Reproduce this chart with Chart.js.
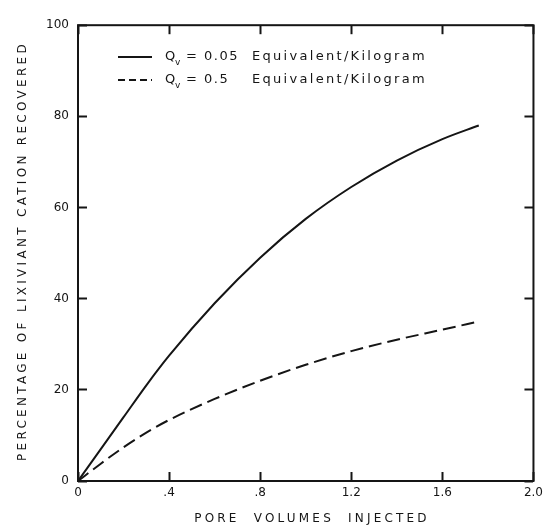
<!DOCTYPE html>
<html>
<head>
<meta charset="utf-8">
<script src="https://cdn.jsdelivr.net/npm/chart.js@4.4.0/dist/chart.umd.min.js"></script>
<style>
    html, body { margin: 0; padding: 0; background: #fff; }
    #wrap { width: 557px; height: 531px; }
</style>
</head>
<body>
<div id="wrap"><canvas id="recovery-chart"></canvas></div>
<script>
// Values
const poreVolumes = [0, 0.1, 0.2, 0.3, 0.4, 0.6, 0.8, 1.0, 1.2, 1.4, 1.6, 1.76];
const recoveredLowQ = [0, 7, 14, 21, 27.5, 39, 49, 57.5, 64.5, 70.3, 75, 78];
const recoveredHighQ = [0, 3.8, 7.4, 10.6, 13.4, 18, 22, 25.5, 28.5, 31, 33.2, 35];
const xTickValues = [0, 0.4, 0.8, 1.2, 1.6, 2.0];
const yTickValues = [0, 20, 40, 60, 80, 100];
const qvValues = ['0.05', '0.5'];
const legendUnit = 'Equivalent/Kilogram';
const xTitle = 'PORE  VOLUMES  INJECTED';
const yTitle = 'PERCENTAGE OF LIXIVIANT CATION RECOVERED';

const ink = '#151515';
const font = "'DejaVu Sans', sans-serif";

function toPoints(ys) {
    return poreVolumes.map((x, i) => ({ x: x, y: ys[i] }));
}

// inward tick marks, drawn by the scales themselves
const inwardGrid = {
    display: true,
    drawOnChartArea: false,
    drawTicks: true,
    tickLength: -9,
    tickWidth: 2,
    tickColor: ink
};

// Frame box plus axis titles
const framePlugin = {
    id: 'frameBox',
    afterDraw(chart) {
        const ctx = chart.ctx;
        const a = chart.chartArea;
        ctx.save();
        ctx.setLineDash([]);
        ctx.strokeStyle = ink;
        ctx.fillStyle = ink;
        ctx.lineWidth = 2;
        ctx.strokeRect(a.left, a.top, a.right - a.left, a.bottom - a.top);

        ctx.font = '12px ' + font;
        ctx.textAlign = 'center';
        ctx.textBaseline = 'middle';
        ctx.letterSpacing = '3.2px';
        ctx.fillText(xTitle, 312, 519);
        ctx.translate(23, 251);
        ctx.rotate(-Math.PI / 2);
        ctx.letterSpacing = '3.3px';
        ctx.fillText(yTitle, 0, 0);
        ctx.restore();
    }
};

// Legend with subscripted Q_v
const legendPlugin = {
    id: 'qvLegend',
    afterDraw(chart) {
        const ctx = chart.ctx;
        ctx.save();
        ctx.fillStyle = ink;
        ctx.strokeStyle = ink;
        ctx.textBaseline = 'middle';
        chart.data.datasets.forEach((ds, i) => {
            const y = 57 + i * 23;
            ctx.lineWidth = 2;
            ctx.setLineDash(i === 0 ? [] : [7, 4]);
            ctx.beginPath();
            ctx.moveTo(118, y);
            ctx.lineTo(152, y);
            ctx.stroke();
            ctx.setLineDash([]);

            ctx.letterSpacing = '0px';
            ctx.font = '13px ' + font;
            ctx.fillText('Q', 165, y);
            ctx.font = '9px ' + font;
            ctx.fillText('v', 175, y + 6);
            ctx.font = '13px ' + font;
            ctx.letterSpacing = '1.5px';
            ctx.fillText('= ' + qvValues[i], 186, y);
            ctx.letterSpacing = '2.3px';
            ctx.fillText(legendUnit, 252, y);
        });
        ctx.restore();
    }
};

function initRecoveryChart() {
    const el = document.getElementById('recovery-chart');
    new Chart(el, {
        type: 'line',
        data: {
            datasets: [
                {
                    label: 'Qv = ' + qvValues[0] + ' ' + legendUnit,
                    data: toPoints(recoveredLowQ),
                    borderColor: ink,
                    borderWidth: 2,
                    pointRadius: 0,
                    cubicInterpolationMode: 'monotone',
                    fill: false
                },
                {
                    label: 'Qv = ' + qvValues[1] + ' ' + legendUnit,
                    data: toPoints(recoveredHighQ),
                    borderColor: ink,
                    borderWidth: 2,
                    borderDash: [13, 6],
                    pointRadius: 0,
                    cubicInterpolationMode: 'monotone',
                    fill: false
                }
            ]
        },
        options: {
            responsive: true,
            maintainAspectRatio: false,
            animation: false,
            layout: { padding: 0 },
            plugins: {
                legend: { display: false },
                tooltip: { enabled: false }
            },
            scales: {
                x: {
                    type: 'linear',
                    position: 'bottom',
                    min: 0,
                    max: 2.0,
                    afterFit: s => { s.height = 50; },
                    afterBuildTicks: s => { s.ticks = xTickValues.map(v => ({ value: v })); },
                    grid: inwardGrid,
                    border: { display: false },
                    ticks: {
                        padding: 14,
                        color: ink,
                        font: { size: 12, family: font },
                        callback: v => v === 0 ? '0' : v.toFixed(1).replace(/^0/, '')
                    }
                },
                xTop: {
                    type: 'linear',
                    position: 'top',
                    min: 0,
                    max: 2.0,
                    afterFit: s => { s.height = 14; },
                    afterBuildTicks: s => { s.ticks = xTickValues.map(v => ({ value: v })); },
                    grid: inwardGrid,
                    border: { display: false },
                    ticks: { display: false }
                },
                y: {
                    position: 'left',
                    min: 0,
                    max: 100,
                    afterFit: s => { s.width = 78; },
                    afterBuildTicks: s => { s.ticks = yTickValues.map(v => ({ value: v })); },
                    grid: inwardGrid,
                    border: { display: false },
                    ticks: {
                        padding: 18,
                        color: ink,
                        font: { size: 12, family: font }
                    }
                },
                yRight: {
                    position: 'right',
                    min: 0,
                    max: 100,
                    afterFit: s => { s.width = 20; },
                    afterBuildTicks: s => { s.ticks = yTickValues.map(v => ({ value: v })); },
                    grid: inwardGrid,
                    border: { display: false },
                    ticks: { display: false }
                }
            }
        },
        plugins: [framePlugin, legendPlugin]
    });
}

initRecoveryChart();
</script>
</body>
</html>
